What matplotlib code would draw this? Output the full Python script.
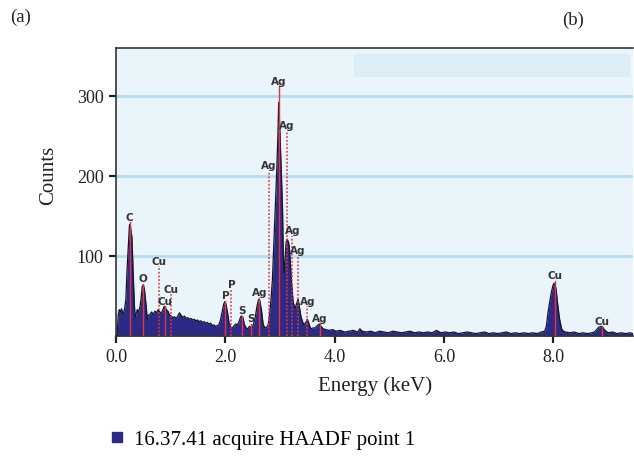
import matplotlib
matplotlib.use('Agg')
import matplotlib.pyplot as plt
import matplotlib.patches as mpatches

# EDS spectrum (energy in keV, counts)
ENERGY = [
    0.02, 0.04, 0.06, 0.08, 0.10, 0.13, 0.16, 0.18, 0.20, 0.225, 0.245, 0.26,
    0.275, 0.29, 0.305, 0.32, 0.335, 0.35, 0.37, 0.39, 0.41, 0.44, 0.46, 0.48,
    0.50, 0.52, 0.54, 0.555, 0.57, 0.59, 0.62, 0.65, 0.68, 0.71, 0.74, 0.77,
    0.80, 0.83, 0.86, 0.88, 0.90, 0.92, 0.95, 0.98, 1.01, 1.04, 1.07, 1.10,
    1.13, 1.16, 1.19, 1.22, 1.25, 1.28, 1.31, 1.34, 1.37, 1.40, 1.43, 1.46,
    1.49, 1.52, 1.55, 1.58, 1.61, 1.64, 1.67, 1.70, 1.73, 1.76, 1.79, 1.82,
    1.85, 1.88, 1.91, 1.94, 1.97, 1.99, 2.01, 2.04, 2.07, 2.10, 2.13, 2.16,
    2.19, 2.22, 2.25, 2.28, 2.30, 2.32, 2.35, 2.38, 2.41, 2.44, 2.46, 2.49,
    2.52, 2.55, 2.58, 2.61, 2.63, 2.66, 2.69, 2.72, 2.75, 2.78, 2.80, 2.83,
    2.86, 2.89, 2.92, 2.94, 2.96, 2.975, 2.99, 3.01, 3.03, 3.045, 3.06, 3.075,
    3.09, 3.11, 3.13, 3.15, 3.17, 3.19, 3.21, 3.23, 3.24, 3.26, 3.28, 3.30,
    3.33, 3.35, 3.38, 3.41, 3.44, 3.47, 3.50, 3.53, 3.56, 3.60, 3.64, 3.68,
    3.72, 3.75, 3.79, 3.84, 3.90, 3.96,
    4.02, 4.10, 4.18, 4.26, 4.34, 4.42, 4.46, 4.50, 4.58, 4.66, 4.74, 4.82,
    4.90, 4.98, 5.06, 5.14, 5.22, 5.30, 5.38, 5.46, 5.54, 5.62, 5.70, 5.78,
    5.86, 5.94, 6.02, 6.10, 6.18, 6.26, 6.34, 6.42, 6.50, 6.58, 6.66, 6.74,
    6.82, 6.90, 6.98, 7.06, 7.14, 7.22, 7.30, 7.38, 7.46, 7.54, 7.62, 7.70,
    7.78, 7.84, 7.87, 7.90, 7.93, 7.96, 7.99, 8.01, 8.03, 8.05, 8.07, 8.09,
    8.11, 8.13, 8.15, 8.18, 8.22, 8.30, 8.38, 8.46, 8.54, 8.62, 8.70, 8.75,
    8.79, 8.83, 8.87, 8.90, 8.93, 8.96, 9.00, 9.08, 9.16, 9.24, 9.32, 9.40,
    9.45,
]
COUNTS = [
    0, 27, 33, 30, 34, 27, 35, 46, 80, 112, 138, 140,
    130, 124, 95, 65, 40, 23, 28, 33, 30, 37, 48, 62,
    64, 58, 45, 35, 21, 26, 27, 30, 27, 31, 29, 33,
    30, 29, 33, 37, 36, 33, 31, 26, 25, 23, 24, 22,
    25, 29, 26, 23, 25, 22, 23, 21, 22, 20, 21, 19,
    20, 18, 19, 17, 18, 16, 17, 15, 16, 13, 14, 12,
    13, 14, 20, 30, 40, 43, 40, 29, 15, 11, 10, 13,
    15, 14, 18, 24, 25, 23, 14, 10, 9, 12, 11, 10,
    16, 25, 38, 46, 44, 32, 15, 10, 11, 13, 22, 42,
    70, 121, 170, 208, 250, 292, 270, 229, 190, 160, 100, 78,
    95, 117, 121, 118, 112, 90, 67, 50, 42, 38, 35, 40,
    46, 38, 25, 18, 14, 17, 21, 15, 9, 10, 10, 13,
    15, 12, 9, 8, 7, 8,
    6, 7, 5, 6, 7, 5, 9, 6, 5, 6, 4, 6,
    5, 4, 6, 5, 4, 5, 6, 4, 5, 4, 5, 4,
    7, 4, 5, 4, 5, 3, 4, 5, 4, 3, 4, 5,
    3, 4, 3, 4, 5, 3, 4, 3, 4, 3, 4, 3,
    5, 6, 12, 29, 42, 54, 63, 66, 64, 58, 44, 33,
    22, 15, 9, 6, 5, 4, 5, 3, 4, 3, 4, 5,
    8, 11, 12, 11, 8, 6, 4, 5, 3, 4, 3, 4,
    3,
]

# element markers: energy, top of marker line, label, dotted?
LINE_E = [0.25, 0.49, 0.79, 0.895, 1.005, 2.00, 2.11, 2.30, 2.46, 2.62,
          2.80, 2.98, 3.13, 3.225, 3.33, 3.50, 3.73, 8.03, 8.89]
LINE_TOP = [142, 65, 87, 37, 52, 44, 58, 25, 15, 48,
            206, 312, 256, 125, 100, 37, 15, 69, 12]
LINE_LABEL = ['C', 'O', 'Cu', 'Cu', 'Cu', 'P', 'P', 'S', 'S', 'Ag',
              'Ag', 'Ag', 'Ag', 'Ag', 'Ag', 'Ag', 'Ag', 'Cu', 'Cu']
LINE_DOTTED = [False, False, True, False, True, False, True, False, False, False,
               True, False, True, True, True, True, False, False, False]

NAVY = '#2d2a86'
RED = '#e8323c'
SERIF = 'Liberation Serif'

fig = plt.figure(figsize=(6.34, 4.60), dpi=100)
ax = fig.add_axes([0.183, 0.2674, 0.815, 0.6261])
ax.set_facecolor('#e9f4fb')

# faint band at the top (legend strip of the original software)
ax.add_patch(mpatches.Rectangle((0.46, 0.90), 0.535, 0.08, transform=ax.transAxes,
                                facecolor='#dcedf8', edgecolor='none', zorder=0))

for yv in [100, 200, 300]:
    ax.axhline(yv, color='#b7dcf1', lw=2, zorder=1)

ax.fill_between(ENERGY, COUNTS, 0, color=NAVY, lw=0, zorder=2)
ax.plot(ENERGY, COUNTS, color='#15152a', lw=0.9, zorder=3)

for e, top, lbl, dotted in zip(LINE_E, LINE_TOP, LINE_LABEL, LINE_DOTTED):
    ax.plot([e, e], [0, top], color=RED, lw=1.0 if not dotted else 1.1,
            ls=(0, (1.2, 1.2)) if dotted else '-', zorder=4)
    ax.annotate(lbl, (e, top), textcoords='offset points', xytext=(0, 0.5),
                ha='center', va='bottom', fontsize=7.5, fontweight='bold',
                color='#333333', family='DejaVu Sans', zorder=5)

ax.set_xlim(0, 9.45)
ax.set_ylim(0, 360)
ax.set_xticks([0, 2, 4, 6, 8])
ax.set_xticklabels(['0.0', '2.0', '4.0', '6.0', '8.0'])
ax.set_yticks([100, 200, 300])
ax.tick_params(direction='out', length=5, width=1.6, labelsize=13,
               colors='#222222', pad=4)
for lab in ax.get_xticklabels() + ax.get_yticklabels():
    lab.set_family(SERIF)

ax.spines['right'].set_visible(False)
for s in ['left', 'bottom', 'top']:
    ax.spines[s].set_color('#333333')
    ax.spines[s].set_linewidth(1.2)

ax.set_xlabel('Energy (keV)', fontsize=15, family=SERIF, color='#222222')
ax.xaxis.set_label_coords(0.502, -0.135)
ax.set_ylabel('Counts', fontsize=15, family=SERIF, color='#222222')
ax.yaxis.set_label_coords(-0.113, 0.56)

fig.text(0.016, 0.962, '(a)', fontsize=13.5, family=SERIF, color='#222222', va='center')
fig.text(0.886, 0.956, '(b)', fontsize=13.5, family=SERIF, color='#222222', va='center')

handle = plt.Line2D([], [], marker='s', ls='', color=NAVY, markersize=6.5)
fig.legend([handle], ['16.37.41 acquire HAADF point 1'], loc='center left',
           bbox_to_anchor=(0.157, 0.043), frameon=False, handletextpad=0.35,
           prop={'family': SERIF, 'size': 15}, handlelength=0.9, borderaxespad=0)

fig.savefig('out.png', dpi=100, facecolor='white')
